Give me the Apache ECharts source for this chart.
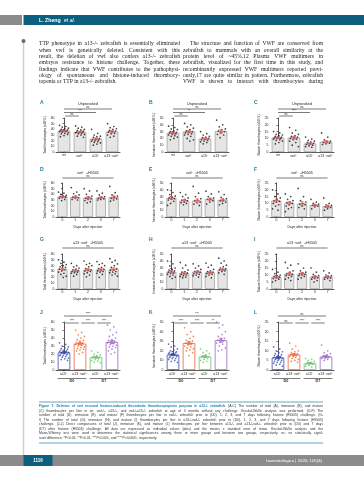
<!DOCTYPE html>
<html><head><meta charset="utf-8">
<script src="https://cdn.jsdelivr.net/npm/echarts@6/dist/echarts.min.js"></script>
<style>html,body{margin:0;padding:0;background:#fff}#c{width:364px;height:480px}</style>
</head><body><div id="c"></div><script>
// ---------- DATA ----------
const unprovokedCats = ['wt','vwf-/-','a13-/-','a13-/-vwf-/-'];
const dayCats = ['0','1','2','3','7'];
const compareCats = ['a13-/-','a13-/-vwf-/-','a13-/-','a13-/-vwf-/-'];
const compareGroups = ['D0','D7'];

const ticksTotal = [0,10,20,30,40,50,60];
const ticksImm = [0,10,20,30,40,50];
const ticksMat = [0,5,10,15,20,25];

const nameTotal = 'Total thrombocytes (x10⁶/L)';
const nameImm = 'Immature thrombocytes (x10⁶/L)';
const nameMat = 'Mature thrombocytes (x10⁶/L)';

const titleUnprov = 'Unprovoked';
const titleVwf = 'vwf-/- +H5505';
const titleDko = 'a13-/-vwf-/- +H5505';
const dayAxisName = 'Days after injection';

// A-C
const meanA = [37, 35, 23, 36];
const semA = [1.2, 1.3, 1.8, 2.2];
const dotsA = [
  [47,45,44,42,41,40,39,38,38,37,37,36,36,35,34,33,32,31,29,27],
  [46,44,42,40,39,38,37,36,35,35,34,34,33,32,31,30,28,26],
  [40,33,30,28,27,26,24,23,22,21,20,19,18,17,16,14,12],
  [50,45,43,41,40,38,37,36,35,33,32,30,28,26]
];
const sigA = [[0,3,'ns'],[0,2,'***'],[0,1,'ns']];

const meanB = [28, 30, 19.5, 30.5];
const semB = [1.3, 1.7, 1.3, 2.3];
const dotsB = [
  [38,36,34,33,31,30,29,28,28,27,26,25,24,23,22,20,18],
  [42,40,37,35,33,31,30,29,28,27,26,25,23,20,18,16],
  [30,27,25,23,22,21,20,19,18,17,16,15,14,12],
  [47,40,37,34,33,31,30,28,26,25,21]
];
const sigB = [[0,3,'ns'],[0,2,'**'],[0,1,'ns']];

const meanC = [10.5, 10.5, 6.2, 7.5];
const semC = [0.6, 1.0, 0.6, 0.9];
const dotsC = [
  [15,14,13,12.5,12,11.5,11,11,10.5,10,10,9.5,9,8.5,8,7,6],
  [18,16,14,13,12,11.5,11,10.5,10,9.5,9,8,7,5,4],
  [11,9.5,8.5,8,7.5,7,6.5,6,5.5,5,4.5,4,3.5],
  [14,11,9,8,7.5,7,6.5,6,5.5]
];
const sigC = [[0,3,'ns'],[0,2,'****'],[0,1,'ns']];

// D-F
const meanD = [36, 35, 34, 34, 35];
const semD = [1.4, 2.0, 2.2, 1.7, 2.6];
const dotsD = [
  [44,42,40,38,37,36,35,34,33,31,29],
  [52,44,41,39,37,35,34,33,31,30],
  [50,46,40,37,35,33,32,31,29,27,25],
  [46,42,39,36,35,33,32,31,30],
  [54,43,39,37,35,33,32,30,28]
];
const sigD = [[0,4,'ns']];

const meanE = [28, 24, 24, 26, 25];
const semE = [1.9, 1.7, 2.6, 2.0, 2.0];
const dotsE = [
  [40,36,33,31,29,28,27,26,25,23,20,17],
  [36,33,30,28,26,25,24,22,21,20,18],
  [45,35,30,27,25,24,22,21,19,17],
  [38,34,30,28,27,26,24,22,19],
  [37,33,29,27,25,24,22,20,18]
];
const sigE = [[0,4,'ns']];

const meanF = [12, 10.2, 9.8, 8.7, 7.8];
const semF = [1.2, 1.1, 1.4, 0.7, 0.9];
const dotsF = [
  [20,17,15,14,13,12,11.5,11,10,9,8,6,5],
  [17,15,13,12,11,10.5,10,9,8,7,6,4],
  [21,15,12,11,10,9.5,9,8,7,6],
  [13,11,10,9.5,9,8.5,8,7.5,6],
  [14,10,9,8.5,8,7.5,7,6,5]
];
const sigF = [[0,4,'ns']];

// G-I
const meanG = [34, 31, 33, 33, 34];
const semG = [2.1, 1.6, 2.0, 1.9, 2.3];
const dotsG = [
  [50,46,44,42,40,38,37,35,34,33,31,29,27,25,22,20],
  [44,40,38,36,34,33,32,31,30,29,28,27,25,22],
  [48,44,42,40,38,35,33,32,31,30,28,26,24,21],
  [47,44,42,40,37,35,34,32,31,30,29,27,25,20],
  [52,49,46,43,40,37,35,33,32,30,29,28,26,24,22]
];
const sigG = [[0,4,'ns']];

const meanH = [24.5, 22.5, 24.5, 23.5, 28];
const semH = [1.7, 1.6, 1.5, 1.6, 1.8];
const dotsH = [
  [40,36,33,30,28,27,26,25,24,23,22,21,20,18,17,15],
  [38,34,30,27,25,24,23,22,21,20,19,18,17,16],
  [36,33,30,28,26,25,24,23,22,21,20,19,17],
  [37,34,31,28,26,25,24,23,22,21,20,18,16],
  [44,40,37,34,32,30,29,28,27,26,25,23,21]
];
const sigH = [[0,4,'ns']];

const meanI = [8.7, 10.9, 10.9, 8.7, 8.7];
const semI = [0.8, 1.0, 0.9, 0.9, 0.7];
const dotsI = [
  [14,12,11,10,9.5,9,8.5,8,7.5,7,6,5],
  [19,17,15,13,12,11,10.5,10,9.5,9,8,7,6],
  [18,15,13,12,11.5,11,10.5,10,9.5,9,8,7],
  [15,12,10.5,9.5,9,8.5,8,7.5,7,6,5],
  [13,11.5,10,9.5,9,8.5,8,7.5,7,6]
];
const sigI = [[0,4,'ns']];

// J-L
const meanJ = [22, 33, 16, 35];
const semJ = [1.0, 1.6, 1.1, 2.0];
const dotsJ = [
  [34,32,30,29,28,27,26,25,25,24,24,23,23,22,22,21,21,20,20,19,19,18,18,17,16,15,14,13,12],
  [50,47,44,42,40,38,37,36,35,34,33,32,31,30,29,28,27,26,25,24,22,20],
  [24,22,20,19,18,17,16,15,15,14,13,12,11,10,9],
  [56,54,50,47,44,42,40,38,37,36,35,34,33,32,31,30,29,28,26,24,22,20]
];
const sigJ = [[0,3,'****'],[0,1,'****'],[1,2,'****'],[2,3,'****']];

const meanK = [16, 28, 14, 31];
const semK = [0.9, 1.6, 1.1, 2.1];
const dotsK = [
  [27,25,24,22,21,20,19,19,18,18,17,17,16,16,15,15,14,14,13,13,12,12,11,10,9,8],
  [44,40,37,35,33,31,30,29,28,27,26,25,24,23,22,21,20,18,15],
  [22,20,18,17,16,15,14,13,13,12,11,10,9,8],
  [50,47,44,40,37,35,33,32,31,30,29,28,27,25,23,21,20]
];
const sigK = [[0,3,'***'],[0,1,'****'],[1,2,'****'],[2,3,'**']];

const meanL = [6.5, 8, 3.5, 7];
const semL = [0.5, 0.6, 0.4, 0.6];
const dotsL = [
  [12,11,10,9.5,9,8.5,8,7.5,7.5,7,7,6.5,6.5,6,6,5.5,5.5,5,5,4.5,4,4,3.5,3,2.5,2],
  [14,12.5,11,10,9.5,9,8.5,8,8,7.5,7,7,6.5,6,5.5,5,4.5,4],
  [6,5.5,5,4.5,4,4,3.5,3.5,3,3,2.5,2,1.5],
  [13,10,9,8.5,8,7.5,7,7,6.5,6.5,6,6,5.5,5]
];
const sigL = [[0,3,'ns'],[0,1,'ns'],[1,2,'****'],[2,3,'****']];

// ---------- TEXT ----------
const headerAuthor = 'L. Zheng';
const headerEtAl = 'et al.';
const bodyLeft = [
  'TTP phenotype in a13-/- zebrafish is essentially eliminated',
  'when vwf is genetically deleted. Consistent with this',
  'result, the deletion of vwf also confers a13-/- zebrafish',
  'embryos resistance to histone challenge. Together, these',
  'findings indicate that VWF contributes to the pathophysi-',
  'ology of spontaneous and histone-induced thrombocy-',
  'topenia or TTP in a13-/- zebrafish.'
];
const bodyRight = [
  'The structure and function of VWF are conserved from',
  'zebrafish to mammals with an overall similarity at the',
  'protein level of ~45%.12 Plasma VWF multimers in',
  'zebrafish, visualized for the first time in this study, and',
  'recombinantly expressed VWF multimers reported previ-',
  'ously,17 are quite similar in pattern. Furthermore, zebrafish',
  'VWF is shown to interact with thrombocytes during'
];
const captionTitle = 'Figure 7. Deletion of vwf rescued histone-induced thrombotic thrombocytopenic purpura in a13-/- zebrafish.';
const captionLines = [
  '(A-C) The number of total (A), immature (B), and mature',
  '(C) thrombocytes per liter in wt, vwf-/-, a13-/-, and vwf-/-a13-/- zebrafish at age of 3 months without any challenge. Kruskal-Wallis analysis was performed. (D-F) The',
  'number of total (D), immature (E), and mature (F) thrombocytes per liter in vwf-/- zebrafish prior to (D0), 1, 2, 3, and 7 days following histone (H5505) challenge. (G-',
  'I) The number of total (G), immature (H), and mature (I) thrombocytes per liter in a13-/-vwf-/- zebrafish prior to (D0), 1, 2, 3, and 7 days following histone (H5505)',
  'challenge. (J-L) Direct comparisons of total (J), immature (K), and mature (L) thrombocytes per liter between a13-/- and a13-/-vwf-/- zebrafish prior to (D0) and 7 days',
  '(D7) after histone (H5505) challenge. All data are expressed as individual values (dots) and the means ± standard error of mean. Kruskal-Wallis analysis and the',
  'Mann-Whitney test were used to determine the statistical significances among three or more groups and between two groups, respectively. ns: no statistically signif-',
  'icant difference; *P<0.05, **P<0.01, ***P<0.001, and ****P<0.0001, respectively.'
];
const pageNumber = '1116';
const journalText = 'haematologica | 2020; 105(4)';

// ---------- BUILD ----------
const TEAL = '#0d5f7f';
const LETTER = '#1b7ba3';
const compareColors = ['#3b4ba8','#f0652f','#6cc36c','#9a68c4'];

const panels = [
  {L:'A', cats:unprovokedCats, ticks:ticksTotal, yName:nameTotal, title:titleUnprov, mean:meanA, sem:semA, dots:dotsA, sig:sigA},
  {L:'B', cats:unprovokedCats, ticks:ticksImm, yName:nameImm, title:titleUnprov, mean:meanB, sem:semB, dots:dotsB, sig:sigB},
  {L:'C', cats:unprovokedCats, ticks:ticksMat, yName:nameMat, title:titleUnprov, mean:meanC, sem:semC, dots:dotsC, sig:sigC},
  {L:'D', cats:dayCats, ticks:ticksTotal, yName:nameTotal, title:titleVwf, mean:meanD, sem:semD, dots:dotsD, sig:sigD, xName:dayAxisName},
  {L:'E', cats:dayCats, ticks:ticksImm, yName:nameImm, title:titleVwf, mean:meanE, sem:semE, dots:dotsE, sig:sigE, xName:dayAxisName},
  {L:'F', cats:dayCats, ticks:ticksMat, yName:nameMat, title:titleVwf, mean:meanF, sem:semF, dots:dotsF, sig:sigF, xName:dayAxisName},
  {L:'G', cats:dayCats, ticks:ticksTotal, yName:nameTotal, title:titleDko, mean:meanG, sem:semG, dots:dotsG, sig:sigG, xName:dayAxisName},
  {L:'H', cats:dayCats, ticks:ticksImm, yName:nameImm, title:titleDko, mean:meanH, sem:semH, dots:dotsH, sig:sigH, xName:dayAxisName},
  {L:'I', cats:dayCats, ticks:ticksMat, yName:nameMat, title:titleDko, mean:meanI, sem:semI, dots:dotsI, sig:sigI, xName:dayAxisName},
  {L:'J', cats:compareCats, ticks:ticksTotal, yName:nameTotal, mean:meanJ, sem:semJ, dots:dotsJ, sig:sigJ, groups:compareGroups, colored:true},
  {L:'K', cats:compareCats, ticks:ticksImm, yName:nameImm, mean:meanK, sem:semK, dots:dotsK, sig:sigK, groups:compareGroups, colored:true},
  {L:'L', cats:compareCats, ticks:ticksMat, yName:nameMat, mean:meanL, sem:semL, dots:dotsL, sig:sigL, groups:compareGroups, colored:true}
];

// layout (positions only)
const colLeft = [56, 165, 270];
const GW = 64;
const rowLay = [
  {top:118, h:34, titleY:104, letterY:103, sigBase:-2, sigStep:3.5},
  {top:183, h:34, titleY:173, letterY:170, sigBase:-5, sigStep:3.5},
  {top:254, h:35, titleY:243, letterY:240, sigBase:-6, sigStep:3.5},
  {top:322, h:48, titleY:null, letterY:313, sigBase:1, sigStep:7}
];

function sup(t){ return t.replace(/-\/-/g, '{s|-/-}'); }
const supRich = {s:{fontSize:2.4, verticalAlign:'top', lineHeight:4}};
const FIG_FONT = 'Liberation Sans';

const option = {animation:false, grid:[], xAxis:[], yAxis:[], series:[], graphic:[]};

panels.forEach((p,i)=>{
  const col = i%3, row = Math.floor(i/3);
  const lay = rowLay[row];
  const left = colLeft[col];
  const n = p.cats.length;
  option.grid.push({left:left, top:lay.top, width:GW, height:lay.h});
  option.xAxis.push({
    type:'category', gridIndex:i, data:p.cats,
    axisLine:{lineStyle:{color:'#111', width:0.7}},
    axisTick:{alignWithLabel:true, length:1.5, lineStyle:{color:'#111', width:0.6}},
    axisLabel:{fontSize:3.4, margin:2, interval:0, color:'#222', fontFamily:FIG_FONT, formatter:v=>sup(v), rich:supRich, hideOverlap:false},
    name:p.xName||'', nameLocation:'middle', nameGap:9,
    nameTextStyle:{fontSize:3.4, color:'#222', fontFamily:FIG_FONT}
  });
  option.xAxis.push({type:'value', gridIndex:i, min:-0.5, max:n-0.5, show:false});
  const tk = p.ticks;
  option.yAxis.push({
    type:'value', gridIndex:i, min:tk[0], max:tk[tk.length-1], interval:tk[1]-tk[0],
    axisLine:{show:true, lineStyle:{color:'#111', width:0.7}},
    axisTick:{show:true, length:1.5, lineStyle:{color:'#111', width:0.6}},
    splitLine:{show:false},
    axisLabel:{fontSize:3.4, margin:1.5, color:'#222', fontFamily:FIG_FONT},
    name:p.yName, nameLocation:'middle', nameGap:8.5, nameRotate:90,
    nameTextStyle:{fontSize:3.1, color:'#222', fontFamily:FIG_FONT}
  });
  const bw = n===4 ? 12.5 : 10;
  option.series.push({
    type:'bar', xAxisIndex:2*i, yAxisIndex:i, barWidth:bw, z:1,
    data:p.mean.map((m,j)=>({value:m, itemStyle: p.colored ?
      {color:'#fff', borderColor:compareColors[j], borderWidth:0.8} :
      {color:'#e5e5e5', borderColor:'#8a8a8a', borderWidth:0.6}}))
  });
  const pts = [];
  p.dots.forEach((arr,j)=>{
    arr.forEach((v,k)=>{
      const off = (((k*7)%11)/10 - 0.5) * (n===4?0.55:0.6);
      pts.push({value:[j+off, v], itemStyle:{color: p.colored ? compareColors[j] : '#111'}});
    });
  });
  option.series.push({type:'scatter', xAxisIndex:2*i+1, yAxisIndex:i, symbolSize:1.7, data:pts, z:3, silent:true});
  const errColor = p.colored ? compareColors : ['#e0585a','#e0585a','#e0585a','#e0585a','#e0585a'];
  option.series.push({
    type:'custom', xAxisIndex:2*i+1, yAxisIndex:i, z:4, silent:true,
    data:p.mean.map((m,j)=>[j, m, p.sem[j]]),
    renderItem:(params, api)=>{
      const x=api.value(0), m=api.value(1), s=api.value(2);
      const c=api.coord([x,m]), hi=api.coord([x,m+s]), lo=api.coord([x,m-s]);
      const band=api.size([1,0])[0];
      const col=errColor[params.dataIndex];
      const st={stroke:col, lineWidth:0.8};
      return {type:'group', children:[
        {type:'line', shape:{x1:c[0]-band*0.22,y1:c[1],x2:c[0]+band*0.22,y2:c[1]}, style:st},
        {type:'line', shape:{x1:c[0],y1:hi[1],x2:c[0],y2:lo[1]}, style:st},
        {type:'line', shape:{x1:c[0]-band*0.12,y1:hi[1],x2:c[0]+band*0.12,y2:hi[1]}, style:st},
        {type:'line', shape:{x1:c[0]-band*0.12,y1:lo[1],x2:c[0]+band*0.12,y2:lo[1]}, style:st}
      ]};
    }
  });
  const spans = [...new Set(p.sig.map(s=>s[1]-s[0]))].sort((a,b)=>a-b);
  option.series.push({
    type:'custom', xAxisIndex:2*i+1, yAxisIndex:i, z:5, silent:true, clip:false,
    data:p.sig.map(s=>[s[0], s[1]]),
    renderItem:(params, api)=>{
      const s=p.sig[params.dataIndex];
      const tier=spans.indexOf(s[1]-s[0]);
      const yTop=api.coord([0, tk[tk.length-1]])[1];
      const y=yTop+lay.sigBase-tier*lay.sigStep;
      const band=api.size([1,0])[0];
      const x1=api.coord([s[0],0])[0]+(s[1]-s[0]===1?band*0.08:0);
      const x2=api.coord([s[1],0])[0]-(s[1]-s[0]===1?band*0.08:0);
      return {type:'group', children:[
        {type:'line', shape:{x1:x1,y1:y,x2:x2,y2:y}, style:{stroke:'#222', lineWidth:0.6}},
        {type:'text', x:(x1+x2)/2, y:y-0.3, style:{text:s[2], fontSize:3, fill:'#222', align:'center', verticalAlign:'bottom', fontFamily:FIG_FONT}}
      ]};
    }
  });
  if (p.groups){
    option.series.push({
      type:'custom', xAxisIndex:2*i+1, yAxisIndex:i, z:5, silent:true, clip:false,
      data:p.groups.map((g,k)=>[k*2, k*2+1]),
      renderItem:(params, api)=>{
        const a=api.value(0), b=api.value(1);
        const band=api.size([1,0])[0];
        const yb=api.coord([0,0])[1];
        const x1=api.coord([a,0])[0]-band*0.4, x2=api.coord([b,0])[0]+band*0.4;
        const y=yb+8.5;
        return {type:'group', children:[
          {type:'line', shape:{x1:x1,y1:y,x2:x2,y2:y}, style:{stroke:'#222', lineWidth:0.6}},
          {type:'text', x:(x1+x2)/2, y:y+0.8, style:{text:p.groups[params.dataIndex], fontSize:3.8, fontWeight:'bold', fill:'#222', align:'center', verticalAlign:'top', fontFamily:FIG_FONT}}
        ]};
      }
    });
  }
  option.graphic.push({type:'text', x:left-16, y:lay.letterY, style:{text:p.L, fontSize:5, fontWeight:'bold', fill:LETTER, verticalAlign:'middle', fontFamily:FIG_FONT}});
  if (p.title){
    option.graphic.push({type:'text', x:left+GW/2, y:lay.titleY, style:{text:sup(p.title), rich:supRich, fontSize:3.7, fill:'#222', align:'center', verticalAlign:'middle', fontFamily:FIG_FONT}});
  }
});

// ---------- page decoration ----------
const G = option.graphic;
const mctx = document.createElement('canvas').getContext('2d');
function fontStr(size, fam, bold){ return (bold?'bold ':'')+size+'px "'+fam+'"'; }
function measure(t, size, fam, bold){ mctx.font = fontStr(size, fam, bold); return mctx.measureText(t).width; }
function placeLine(words, x, y, width, size, fam, justify){
  const ws = words.map(w=>measure(w.t, size, fam, w.bold));
  const total = ws.reduce((a,b)=>a+b,0);
  const sp = measure(' ', size, fam, false);
  let gap = (justify && words.length>1) ? (width-total)/(words.length-1) : sp;
  if (gap < sp*0.5) gap = sp*0.5;
  let cx = x;
  words.forEach((w,k)=>{
    G.push({type:'text', x:cx, y:y, silent:true, style:{text:w.t, fontSize:size, fontFamily:fam, fontWeight:w.bold?'bold':'normal', fill:w.fill, verticalAlign:'middle'}});
    cx += ws[k] + gap;
  });
}
function toWords(t, bold, fill){ return t.trim().split(/\s+/).map(s=>({t:s, bold:bold, fill:fill})); }

G.push({type:'rect', shape:{x:0,y:15,width:22,height:10}, style:{fill:'#8b8b8b'}});
G.push({type:'rect', shape:{x:23.5,y:15,width:341,height:10}, style:{fill:TEAL}});
G.push({type:'text', x:39, y:20.5, style:{text:'{b|'+headerAuthor+'} {i|'+headerEtAl+'}', verticalAlign:'middle', rich:{b:{fontSize:5.2, fontWeight:'bold', fill:'#fff', fontFamily:'Liberation Sans'}, i:{fontSize:5.2, fontStyle:'italic', fill:'#fff', fontFamily:'Liberation Sans'}}}});
G.push({type:'line', shape:{x1:23.5,y1:41,x2:23.5,y2:455}, style:{stroke:'#cfcfcf', lineWidth:1.5}});
G.push({type:'circle', shape:{cx:23.5,cy:41,r:2}, style:{fill:'#6a6a6a'}});

const BODY_FONT = 'Liberation Serif', BODY_SIZE = 5.6;
bodyLeft.forEach((t,k)=>placeLine(toWords(t,false,'#222'), 39, 44+k*6.3, 141, BODY_SIZE, BODY_FONT, k<bodyLeft.length-1));
bodyRight.forEach((t,k)=>{
  const ind = k===0 ? 7 : 0;
  placeLine(toWords(t,false,'#222'), 183+ind, 44+k*6.3, 140-ind, BODY_SIZE, BODY_FONT, true);
});

G.push({type:'line', shape:{x1:39,y1:402,x2:323,y2:402}, style:{stroke:'#3d8fb0', lineWidth:0.8}});
G.push({type:'line', shape:{x1:39,y1:443,x2:323,y2:443}, style:{stroke:'#3d8fb0', lineWidth:0.8}});
const CAP_SIZE = 3.35;
captionLines.forEach((t,k)=>{
  let words = toWords(t,false,'#333');
  if (k===0) words = toWords(captionTitle,true,'#1b7ba3').concat(words);
  placeLine(words, 39, 406.5+k*4.5, 284, CAP_SIZE, 'Liberation Sans', k<captionLines.length-1);
});
G.push({type:'rect', shape:{x:0,y:455,width:364,height:11}, style:{fill:'#8b8b8b'}});
G.push({type:'rect', shape:{x:23.5,y:455,width:29,height:11}, style:{fill:TEAL}});
G.push({type:'text', x:38, y:460.5, style:{text:pageNumber, fontSize:4.5, fontWeight:'bold', fill:'#fff', align:'center', verticalAlign:'middle', fontFamily:'Liberation Sans'}});
G.push({type:'text', x:322, y:460.5, style:{text:journalText, fontSize:4.3, fill:'#fff', align:'right', verticalAlign:'middle', fontFamily:'Liberation Sans'}});

const chart = echarts.init(document.getElementById('c'), null, {renderer:'canvas'});
chart.setOption(option);
</script></body></html>
